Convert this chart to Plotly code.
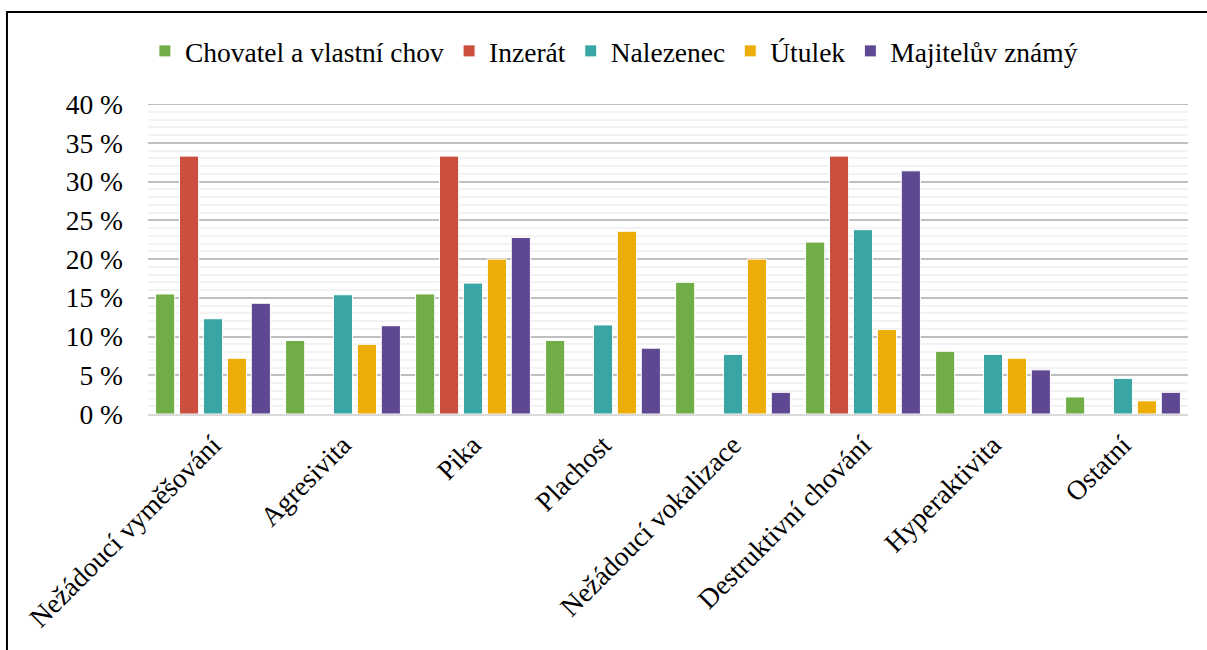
import plotly.graph_objects as go

categories = ["Nežádoucí vyměšování", "Agresivita", "Pika", "Plachost",
              "Nežádoucí vokalizace", "Destruktivní chování", "Hyperaktivita", "Ostatní"]

chovatel = [15.5, 9.5, 15.5, 9.5, 17.0, 22.2, 8.1, 2.2]
inzerat = [33.3, 0, 33.3, 0, 0, 33.3, 0, 0]
nalezenec = [12.3, 15.4, 16.9, 11.5, 7.7, 23.8, 7.7, 4.6]
utulek = [7.2, 9.0, 20.0, 23.6, 20.0, 10.9, 7.2, 1.7]
znamy = [14.3, 11.4, 22.8, 8.5, 2.8, 31.4, 5.7, 2.8]

y_max = 40

series = [
    ("Chovatel a vlastní chov", chovatel, "#70AD47"),
    ("Inzerát", inzerat, "#CB4F3E"),
    ("Nalezenec", nalezenec, "#39A6A5"),
    ("Útulek", utulek, "#ECAD08"),
    ("Majitelův známý", znamy, "#5E4891"),
]

fig = go.Figure()
for name, vals, col in series:
    fig.add_trace(go.Bar(
        x=categories, y=vals, name=name,
        marker=dict(color=col, line=dict(color="white", width=1)),
    ))

FONT = "Liberation Serif, Times New Roman, serif"
FS = 27.5
fig.update_layout(
    width=1207, height=650,
    barmode="group", bargap=0.08, bargroupgap=0.2,
    plot_bgcolor="white", paper_bgcolor="white",
    margin=dict(l=148, r=19, t=104, b=236, autoexpand=False),
    font=dict(family=FONT, size=FS, color="black"),
    legend=dict(orientation="h", x=0.448, xanchor="center", y=1 - 51 / 650, yref="container",
                yanchor="middle", font=dict(family=FONT, size=FS), itemwidth=30,
                traceorder="normal"),
    xaxis=dict(tickangle=-45, showgrid=False, showline=True, linecolor="#D9D9D9",
               linewidth=2, ticks="", automargin=False, ticklabelstandoff=2,
               tickfont=dict(family=FONT, size=FS)),
    yaxis=dict(range=[0, y_max + 0.03], dtick=5, ticksuffix=" %", showgrid=True,
               gridcolor="#BFBFBF", gridwidth=1.5, zeroline=False, automargin=False,
               minor=dict(dtick=1, showgrid=True, gridcolor="#F2F2F2", gridwidth=1.5),
               tickfont=dict(family=FONT, size=FS), ticklabelstandoff=24),
    shapes=[
        dict(type="rect", xref="paper", yref="paper", x0=-0.1356, x1=1.2,
             y0=-1.0, y1=1.297, line=dict(color="black", width=2),
             fillcolor="rgba(0,0,0,0)", layer="below"),
        dict(type="line", xref="paper", yref="y", x0=0, x1=1, y0=y_max, y1=y_max,
             line=dict(color="#BFBFBF", width=1.5), layer="below"),
    ],
)

fig.write_html("out.html", config={"displayModeBar": False},
               post_script="document.body.style.margin='0';")
